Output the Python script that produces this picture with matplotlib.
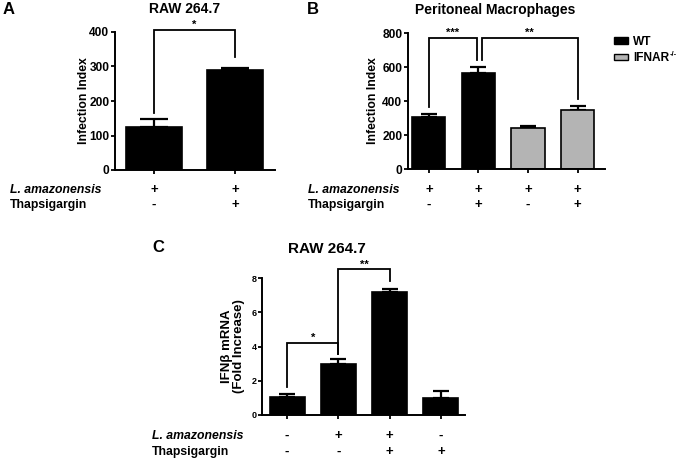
import matplotlib

matplotlib.use("Agg")
import matplotlib.pyplot as plt
import matplotlib.transforms as mtransforms
from matplotlib.patches import Patch

plt.rcParams["font.family"] = ["Liberation Sans", "DejaVu Sans"]
plt.rcParams["font.weight"] = "bold"

W, H = 681, 462

# Panel A: RAW 264.7 infection index
a_means = [125, 290]
a_errs = [22, 5]
a_lamaz = ["+", "+"]
a_thaps = ["-", "+"]

# Panel B: peritoneal macrophages, WT vs IFNAR-/-
b_means = [308, 563, 240, 347]
b_errs = [14, 39, 13, 25]
b_colors = ["black", "black", "#b4b4b4", "#b4b4b4"]
b_lamaz = ["+", "+", "+", "+"]
b_thaps = ["-", "+", "-", "+"]

# Panel C: IFNb mRNA fold increase
c_means = [1.05, 3.0, 7.2, 0.97]
c_errs = [0.2, 0.25, 0.17, 0.43]
c_lamaz = ["-", "+", "+", "-"]
c_thaps = ["-", "-", "+", "+"]

fig = plt.figure(figsize=(W / 100, H / 100), dpi=100)


def px_axes(l, r, t, b):
    return fig.add_axes([l / W, 1 - b / H, (r - l) / W, (b - t) / H])


def style(ax, tick_fs):
    for s in ["top", "right"]:
        ax.spines[s].set_visible(False)
    for s in ["left", "bottom"]:
        ax.spines[s].set_linewidth(1.4)
    ax.tick_params(axis="both", direction="out", length=3, width=1.3,
                   labelsize=tick_fs, pad=1)
    ax.set_xticklabels([])
    for lab in ax.get_yticklabels():
        lab.set_fontweight("bold")


def bars(ax, means, errs, colors, width, capsize):
    x = list(range(len(means)))
    ax.bar(x, means, width=width, color=colors, edgecolor="black", linewidth=1.2, zorder=2)
    ax.errorbar(x, means, yerr=[[0] * len(means), errs], fmt="none", ecolor="black",
                elinewidth=1.6, capsize=capsize, capthick=1.6, zorder=1)
    ax.set_xticks(x)


def bracket(ax, x1, x2, ytop, y1, y2, label, fs=8):
    ax.plot([x1, x1, x2, x2], [y1, ytop, ytop, y2], color="black", lw=1.3,
            clip_on=False, solid_joinstyle="miter")
    ax.text((x1 + x2) / 2, ytop, label, ha="center", va="bottom", fontsize=fs,
            fontweight="bold")


def rows(ax, lamaz, thaps, y1, y2, xlab):
    tr = mtransforms.blended_transform_factory(ax.transData, fig.transFigure)
    for i, (p, q) in enumerate(zip(lamaz, thaps)):
        ax.text(i, 1 - y1 / H, p, transform=tr, ha="center", va="center", fontsize=9.5,
                fontweight="bold")
        ax.text(i, 1 - y2 / H, q, transform=tr, ha="center", va="center", fontsize=9.5,
                fontweight="bold")
    fig.text(xlab / W, 1 - y1 / H, "L. amazonensis", ha="left", va="center",
             fontsize=8.8, fontweight="bold", style="italic")
    fig.text(xlab / W, 1 - y2 / H, "Thapsigargin", ha="left", va="center",
             fontsize=8.8, fontweight="bold")


# ---- A ----
axA = px_axes(115, 275, 32, 170)
bars(axA, a_means, a_errs, "black", 0.69, 10)
axA.set_xlim(-0.48, 1.49)
axA.set_ylim(0, 400)
axA.set_yticks([0, 100, 200, 300, 400])
style(axA, 8.6)
axA.set_ylabel("Infection Index", fontsize=8.8, fontweight="bold")
axA.yaxis.set_label_coords(-0.155, 0.5)
bracket(axA, 0, 1, 405, 165, 327, "*")
rows(axA, a_lamaz, a_thaps, 190, 205, 10)
fig.text(185 / W, 1 - 9 / H, "RAW 264.7", ha="center", va="center", fontsize=10,
         fontweight="bold")
fig.text(3 / W, 1 - 9 / H, "A", ha="left", va="center", fontsize=12, fontweight="bold")

# ---- B ----
axB = px_axes(408, 605, 33, 169)
bars(axB, b_means, b_errs, b_colors, 0.67, 6)
axB.set_xlim(-0.42, 3.55)
axB.set_ylim(0, 800)
axB.set_yticks([0, 200, 400, 600, 800])
style(axB, 8.6)
axB.set_ylabel("Infection Index", fontsize=8.8, fontweight="bold")
axB.yaxis.set_label_coords(-0.145, 0.5)
bracket(axB, 0, 0.97, 770, 366, 641, "***")
bracket(axB, 1.07, 3, 770, 641, 412, "**")
rows(axB, b_lamaz, b_thaps, 190, 205, 308)
fig.text(495 / W, 1 - 10 / H, "Peritoneal Macrophages", ha="center", va="center",
         fontsize=10, fontweight="bold")
fig.text(307 / W, 1 - 9 / H, "B", ha="left", va="center", fontsize=12, fontweight="bold")
fig.legend(handles=[Patch(facecolor="black", edgecolor="black", label="WT"),
                    Patch(facecolor="#b4b4b4", edgecolor="black", label="IFNAR")],
           loc="upper left", bbox_to_anchor=(614 / W, 1 - 36 / H), frameon=False,
           handlelength=1.2, handleheight=0.5, handletextpad=0.4,
           labelspacing=0.35, borderpad=0, borderaxespad=0,
           prop={"weight": "bold", "size": 8.6})
fig.text(669.5 / W, 1 - 54 / H, "-/-", ha="left", va="center", fontsize=5.5,
         fontweight="bold")

# ---- C ----
axC = px_axes(262, 465, 278, 415)
bars(axC, c_means, c_errs, "black", 0.68, 6)
axC.set_xlim(-0.49, 3.47)
axC.set_ylim(0, 8)
axC.set_yticks([0, 2, 4, 6, 8])
style(axC, 6.5)
axC.set_ylabel("IFN\u03b2 mRNA\n(Fold Increase)", fontsize=9.5, fontweight="bold",
               linespacing=1.0)
axC.yaxis.set_label_coords(-0.085, 0.5)
bracket(axC, 0, 1, 4.2, 1.65, 3.55, "*")
bracket(axC, 1, 2, 8.5, 3.55, 7.8, "**")
rows(axC, c_lamaz, c_thaps, 436, 452, 152)
fig.text(327 / W, 1 - 249 / H, "RAW 264.7", ha="center", va="center", fontsize=11,
         fontweight="bold")
fig.text(152 / W, 1 - 248 / H, "C", ha="left", va="center", fontsize=12, fontweight="bold")

fig.savefig("out.png", dpi=100)
